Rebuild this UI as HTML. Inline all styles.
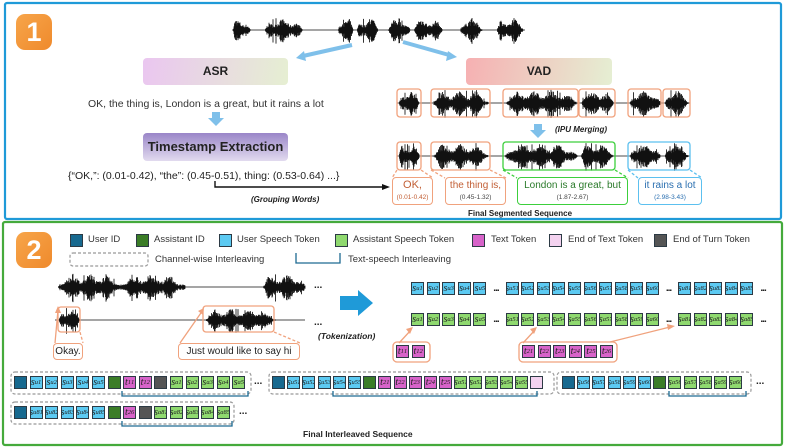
<!DOCTYPE html>
<html><head><meta charset="utf-8"><style>
*{margin:0;padding:0;box-sizing:border-box}
body{width:785px;height:447px;background:#fff;position:relative;overflow:hidden;font-family:"Liberation Sans",sans-serif;color:#222}
.a{position:absolute}
.badge{position:absolute;width:36px;height:36px;border-radius:9px;background:linear-gradient(135deg,#f7a54a,#ef8a2c);color:#fff;font-weight:bold;font-size:27px;text-align:center;line-height:36px}
.box{position:absolute;border-radius:4px;font-weight:bold;text-align:center}
.row{position:absolute;display:flex;gap:2.6px;align-items:center}
.row b,.sq{display:inline-flex;width:13px;height:13px;border:1px solid #2c3a44;font-family:"Liberation Serif",serif;font-style:italic;font-size:10px;align-items:center;justify-content:center;font-weight:normal;color:#222;line-height:1;overflow:hidden}
.row b sub,.row b sup{font-size:6.5px;line-height:0}
.u{background:#5ccaf2}.g{background:#8fd96f}.t{background:#d763c9}.U{background:#17698f}.A{background:#3b7d27}.E{background:#555}.P{background:#f3d2ef}
.dots{font-size:10px;font-weight:bold;width:14px;text-align:center;letter-spacing:-1px}
.lg{position:absolute;font-size:9.5px;color:#333}
.lbl{position:absolute;border:1.3px solid #f0a27d;border-radius:4px;text-align:center;font-size:10px;line-height:11px;background:#fff}
</style></head><body>
<svg class="a" style="left:0;top:0" width="785" height="447" id="sv">
<rect x="5" y="3" width="776" height="216" fill="none" stroke="#1f9ad8" stroke-width="2.2" rx="2"/>
<rect x="3" y="222" width="779" height="223" fill="none" stroke="#45aa3c" stroke-width="2.2" rx="2"/>
<g id="waves" stroke="#111" stroke-width="0.85"></g>
<line x1="352" y1="45" x2="303" y2="56" stroke="#7fc0ea" stroke-width="4"/><polygon points="296,58 304,51 306,61" fill="#7fc0ea"/>
<line x1="403" y1="42" x2="449" y2="55" stroke="#7fc0ea" stroke-width="4"/><polygon points="457,57 448,51 446,61" fill="#7fc0ea"/>
<polygon points="212,112 220,112 220,118 224,118 216,126 208,118 212,118" fill="#7fc0ea"/>
<polygon points="534,124 542,124 542,130 546,130 538,138 530,130 534,130" fill="#7fc0ea"/>
<polyline points="215,181 215,187 384,187" fill="none" stroke="#111" stroke-width="1.4"/><polygon points="390,187 382,184 382,190" fill="#111"/>
<g fill="none" stroke="#f0a27d" stroke-width="1.3">
<rect x="397" y="89" width="24" height="28" rx="3"/><rect x="431" y="89" width="59" height="28" rx="3"/><rect x="503" y="89" width="75" height="28" rx="3"/><rect x="579" y="89" width="36" height="28" rx="3"/><rect x="628" y="89" width="33" height="28" rx="3"/><rect x="663" y="89" width="27" height="28" rx="3"/>
<rect x="397" y="142" width="24" height="28" rx="3"/><rect x="431" y="142" width="59" height="28" rx="3"/>
<g stroke-dasharray="3,2"><line x1="397" y1="170" x2="392" y2="178"/><line x1="421" y1="170" x2="433" y2="178"/><line x1="431" y1="170" x2="445" y2="178"/><line x1="490" y1="170" x2="506" y2="178"/>
<line x1="80" y1="332" x2="83" y2="343"/><line x1="274" y1="332" x2="300" y2="343"/></g>
<rect x="58" y="307" width="22" height="25" rx="3"/><rect x="203" y="306" width="71" height="26" rx="3"/>
<line x1="55" y1="343" x2="58" y2="310"/><line x1="180" y1="343" x2="203" y2="310"/>
<rect x="393" y="342" width="37" height="20" rx="4"/><rect x="519" y="342" width="98" height="20" rx="4"/>
<line x1="399" y1="343" x2="411" y2="330"/><line x1="523" y1="343" x2="535" y2="330"/><line x1="610" y1="342" x2="670" y2="327"/>
</g>
<g fill="#f0a27d"><polygon points="58,306 55,313 61,313"/><polygon points="204,308 198,311 203,315"/><polygon points="413,327 406,329 410,334"/><polygon points="537,327 530,329 534,334"/><polygon points="675,326 667,324 668,330"/></g>
<g fill="none" stroke-width="1.3" stroke-dasharray="3,2"><g stroke="#3ccf3c"><line x1="503" y1="170" x2="517" y2="178"/><line x1="615" y1="170" x2="628" y2="178"/></g><g stroke="#5cc0ef"><line x1="628" y1="170" x2="638" y2="178"/><line x1="690" y1="170" x2="702" y2="178"/></g></g>
<rect x="503" y="142" width="112" height="28" rx="3" fill="none" stroke="#3ccf3c" stroke-width="1.3"/>
<rect x="628" y="142" width="62" height="28" rx="3" fill="none" stroke="#5cc0ef" stroke-width="1.3"/>
<polygon points="340,296 358,296 358,290 373,303 358,316 358,310 340,310" fill="#1f9ad8"/>
<g fill="none" stroke="#999" stroke-width="1.2" stroke-dasharray="3,2">
<rect x="70" y="253" width="78" height="13" rx="3"/>
<rect x="11" y="372" width="240" height="22" rx="4"/><rect x="269" y="372" width="285" height="22" rx="4"/><rect x="557" y="372" width="194" height="22" rx="4"/><rect x="11" y="402" width="223" height="22" rx="4"/>
</g>
<g fill="none" stroke="#1d6a92" stroke-width="1.3">
<polyline points="296,253 296,263 340,263 340,253"/>
<polyline points="122,391 122,396 248,396 248,391"/><polyline points="333,391 333,396 537,396 537,391"/><polyline points="669,391 669,396 746,396 746,391"/><polyline points="122,421 122,426 232,426 232,421"/>
</g>
</svg>
<div class="badge" style="left:16px;top:14px">1</div>
<div class="badge" style="left:16px;top:232px">2</div>
<div class="box" style="left:143px;top:58px;width:145px;height:27px;line-height:27px;font-size:12px;background:linear-gradient(100deg,#eac6f0,#e6efd2)">ASR</div>
<div class="box" style="left:466px;top:58px;width:146px;height:27px;line-height:27px;font-size:12px;background:linear-gradient(100deg,#f6b0b2,#e5efd3)">VAD</div>
<div class="box" style="left:143px;top:133px;width:145px;height:28px;line-height:28px;font-size:13px;background:linear-gradient(180deg,#9a86c8,#e2dbef)">Timestamp Extraction</div>
<div class="a" style="left:88px;top:98px;font-size:10.5px;color:#333">OK, the thing is, London is a great, but it rains a lot</div>
<div class="a" style="left:68px;top:170px;font-size:10.5px;color:#222">{“OK,”: (0.01-0.42), “the”: (0.45-0.51), thing: (0.53-0.64) ...}</div>
<div class="a" style="left:251px;top:195px;font-size:8px;font-weight:bold;font-style:italic">(Grouping Words)</div>
<div class="a" style="left:555px;top:125px;font-size:8px;font-weight:bold;font-style:italic">(IPU Merging)</div>
<div class="lbl" style="left:392px;top:177px;width:41px;height:28px;color:#c25f35;font-size:11px;padding-top:2px">OK,<br><span style="font-size:6.5px">(0.01-0.42)</span></div>
<div class="lbl" style="left:445px;top:177px;width:61px;height:28px;color:#c25f35;padding-top:2px">the thing is,<br><span style="font-size:6.5px;color:#444">(0.45-1.32)</span></div>
<div class="lbl" style="left:517px;top:177px;width:111px;height:28px;color:#2a7a2a;border-color:#3ccf3c;padding-top:2px">London is a great, but<br><span style="font-size:6.5px;color:#444">(1.87-2.67)</span></div>
<div class="lbl" style="left:638px;top:177px;width:64px;height:28px;color:#2a6fb0;border-color:#5cc0ef;padding-top:2px">it rains a lot<br><span style="font-size:6.5px">(2.98-3.43)</span></div>
<div class="a" style="left:468px;top:209px;font-size:8px;font-weight:bold">Final Segmented Sequence</div>

<span class="sq U a" style="left:70px;top:234px"></span><div class="lg" style="left:88px;top:234px">User ID</div>
<span class="sq A a" style="left:136px;top:234px"></span><div class="lg" style="left:154px;top:234px">Assistant ID</div>
<span class="sq u a" style="left:219px;top:234px"></span><div class="lg" style="left:237px;top:234px">User Speech Token</div>
<span class="sq g a" style="left:335px;top:234px"></span><div class="lg" style="left:353px;top:234px">Assistant Speech Token</div>
<span class="sq t a" style="left:472px;top:234px"></span><div class="lg" style="left:491px;top:234px">Text Token</div>
<span class="sq P a" style="left:549px;top:234px"></span><div class="lg" style="left:568px;top:234px">End of Text Token</div>
<span class="sq E a" style="left:654px;top:234px"></span><div class="lg" style="left:673px;top:234px">End of Turn Token</div>
<div class="lg" style="left:155px;top:254px">Channel-wise Interleaving</div>
<div class="lg" style="left:348px;top:254px">Text-speech Interleaving</div>
<div class="a" style="left:314px;top:280px;font-size:10px;font-weight:bold">...</div>
<div class="a" style="left:314px;top:317px;font-size:10px;font-weight:bold">...</div>
<div class="a" style="left:318px;top:331px;font-size:8.5px;font-weight:bold;font-style:italic">(Tokenization)</div>
<div class="lbl" style="left:53px;top:343px;width:30px;height:17px;line-height:15px">Okay.</div>
<div class="lbl" style="left:178px;top:343px;width:122px;height:17px;line-height:15px">Just would like to say hi</div>

<div class="row" style="left:411px;top:282px"><b class="u">s<sub>u</sub><sup>1</sup></b><b class="u">s<sub>u</sub><sup>2</sup></b><b class="u">s<sub>u</sub><sup>3</sup></b><b class="u">s<sub>u</sub><sup>4</sup></b><b class="u">s<sub>u</sub><sup>5</sup></b><span class="dots">...</span><b class="u">s<sub>u</sub><sup>51</sup></b><b class="u">s<sub>u</sub><sup>52</sup></b><b class="u">s<sub>u</sub><sup>53</sup></b><b class="u">s<sub>u</sub><sup>54</sup></b><b class="u">s<sub>u</sub><sup>55</sup></b><b class="u">s<sub>u</sub><sup>56</sup></b><b class="u">s<sub>u</sub><sup>57</sup></b><b class="u">s<sub>u</sub><sup>58</sup></b><b class="u">s<sub>u</sub><sup>59</sup></b><b class="u">s<sub>u</sub><sup>60</sup></b><span class="dots">...</span><b class="u">s<sub>u</sub><sup>81</sup></b><b class="u">s<sub>u</sub><sup>82</sup></b><b class="u">s<sub>u</sub><sup>83</sup></b><b class="u">s<sub>u</sub><sup>84</sup></b><b class="u">s<sub>u</sub><sup>85</sup></b><span class="dots">...</span></div>
<div class="row" style="left:411px;top:313px"><b class="g">s<sub>a</sub><sup>1</sup></b><b class="g">s<sub>a</sub><sup>2</sup></b><b class="g">s<sub>a</sub><sup>3</sup></b><b class="g">s<sub>a</sub><sup>4</sup></b><b class="g">s<sub>a</sub><sup>5</sup></b><span class="dots">...</span><b class="g">s<sub>a</sub><sup>51</sup></b><b class="g">s<sub>a</sub><sup>52</sup></b><b class="g">s<sub>a</sub><sup>53</sup></b><b class="g">s<sub>a</sub><sup>54</sup></b><b class="g">s<sub>a</sub><sup>55</sup></b><b class="g">s<sub>a</sub><sup>56</sup></b><b class="g">s<sub>a</sub><sup>57</sup></b><b class="g">s<sub>a</sub><sup>58</sup></b><b class="g">s<sub>a</sub><sup>59</sup></b><b class="g">s<sub>a</sub><sup>60</sup></b><span class="dots">...</span><b class="g">s<sub>a</sub><sup>81</sup></b><b class="g">s<sub>a</sub><sup>82</sup></b><b class="g">s<sub>a</sub><sup>83</sup></b><b class="g">s<sub>a</sub><sup>84</sup></b><b class="g">s<sub>a</sub><sup>85</sup></b><span class="dots">...</span></div>
<div class="row" style="left:396px;top:345px"><b class="t">t<sub>1</sub><sup>1</sup></b><b class="t">t<sub>1</sub><sup>2</sup></b></div>
<div class="row" style="left:522px;top:345px"><b class="t">t<sub>2</sub><sup>1</sup></b><b class="t">t<sub>2</sub><sup>2</sup></b><b class="t">t<sub>2</sub><sup>3</sup></b><b class="t">t<sub>2</sub><sup>4</sup></b><b class="t">t<sub>2</sub><sup>5</sup></b><b class="t">t<sub>2</sub><sup>6</sup></b></div>

<div class="row" style="left:14px;top:376px"><b class="U"></b><b class="u">s<sub>u</sub><sup>1</sup></b><b class="u">s<sub>u</sub><sup>2</sup></b><b class="u">s<sub>u</sub><sup>3</sup></b><b class="u">s<sub>u</sub><sup>4</sup></b><b class="u">s<sub>u</sub><sup>5</sup></b><b class="A"></b><b class="t">t<sub>1</sub><sup>1</sup></b><b class="t">t<sub>1</sub><sup>2</sup></b><b class="E"></b><b class="g">s<sub>a</sub><sup>1</sup></b><b class="g">s<sub>a</sub><sup>2</sup></b><b class="g">s<sub>a</sub><sup>3</sup></b><b class="g">s<sub>a</sub><sup>4</sup></b><b class="g">s<sub>a</sub><sup>5</sup></b></div>
<div class="a" style="left:254px;top:376px;font-size:10px;font-weight:bold">...</div>
<div class="row" style="left:272px;top:376px;gap:2.2px"><b class="U"></b><b class="u">s<sub>u</sub><sup>51</sup></b><b class="u">s<sub>u</sub><sup>52</sup></b><b class="u">s<sub>u</sub><sup>53</sup></b><b class="u">s<sub>u</sub><sup>54</sup></b><b class="u">s<sub>u</sub><sup>55</sup></b><b class="A"></b><b class="t">t<sub>2</sub><sup>1</sup></b><b class="t">t<sub>2</sub><sup>2</sup></b><b class="t">t<sub>2</sub><sup>3</sup></b><b class="t">t<sub>2</sub><sup>4</sup></b><b class="t">t<sub>2</sub><sup>5</sup></b><b class="g">s<sub>a</sub><sup>51</sup></b><b class="g">s<sub>a</sub><sup>52</sup></b><b class="g">s<sub>a</sub><sup>53</sup></b><b class="g">s<sub>a</sub><sup>54</sup></b><b class="g">s<sub>a</sub><sup>55</sup></b><b class="P"></b></div>
<div class="row" style="left:562px;top:376px;gap:2.2px"><b class="U"></b><b class="u">s<sub>u</sub><sup>56</sup></b><b class="u">s<sub>u</sub><sup>57</sup></b><b class="u">s<sub>u</sub><sup>58</sup></b><b class="u">s<sub>u</sub><sup>59</sup></b><b class="u">s<sub>u</sub><sup>60</sup></b><b class="A"></b><b class="g">s<sub>a</sub><sup>56</sup></b><b class="g">s<sub>a</sub><sup>57</sup></b><b class="g">s<sub>a</sub><sup>58</sup></b><b class="g">s<sub>a</sub><sup>59</sup></b><b class="g">s<sub>a</sub><sup>60</sup></b></div>
<div class="a" style="left:756px;top:376px;font-size:10px;font-weight:bold">...</div>
<div class="row" style="left:14px;top:406px"><b class="U"></b><b class="u">s<sub>u</sub><sup>81</sup></b><b class="u">s<sub>u</sub><sup>82</sup></b><b class="u">s<sub>u</sub><sup>83</sup></b><b class="u">s<sub>u</sub><sup>84</sup></b><b class="u">s<sub>u</sub><sup>85</sup></b><b class="A"></b><b class="t">t<sub>2</sub><sup>6</sup></b><b class="E"></b><b class="g">s<sub>a</sub><sup>81</sup></b><b class="g">s<sub>a</sub><sup>82</sup></b><b class="g">s<sub>a</sub><sup>83</sup></b><b class="g">s<sub>a</sub><sup>84</sup></b><b class="g">s<sub>a</sub><sup>85</sup></b></div>
<div class="a" style="left:239px;top:406px;font-size:10px;font-weight:bold">...</div>
<div class="a" style="left:303px;top:429px;font-size:8.5px;font-weight:bold">Final Interleaved Sequence</div>
<script>
var seed=7;function r(){seed=(seed*16807)%2147483647;return seed/2147483647;}
var g=document.getElementById('waves'),d='';
function wave(x1,x2,cy,amp,bursts){d+='M'+x1+' '+cy+'L'+x2+' '+cy;
bursts.forEach(function(b){var ph=r()*6;for(var x=b[0];x<=b[1];x+=0.5){var p=(x-b[0])/(b[1]-b[0]);var edge=Math.min(1,p*8,(1-p)*4+0.15);var mod=0.45+0.55*Math.pow(Math.abs(Math.sin(x*0.18+ph)),2);var q=r();var h=amp*edge*mod*(0.4+0.6*q);if(r()<0.05)h=amp*edge*(0.8+0.3*r());d+='M'+x.toFixed(1)+' '+(cy-h).toFixed(1)+'L'+x.toFixed(1)+' '+(cy+h*1.15).toFixed(1);}});}
wave(232,525,30,11,[[233,250],[265,302],[338,353],[357,378],[388,410],[414,442],[460,482],[497,523]]);
var vb=[[399,419],[433,488],[505,577],[581,613],[630,660],[665,688]];
wave(397,690,103,12,vb);wave(397,690,156,12,vb);
wave(58,305,287,12,[[58,122],[120,185],[263,305]]);
wave(55,305,320,11,[[59,80],[205,275]]);
var p=document.createElementNS('http://www.w3.org/2000/svg','path');p.setAttribute('d',d);g.appendChild(p);
</script>
</body></html>
